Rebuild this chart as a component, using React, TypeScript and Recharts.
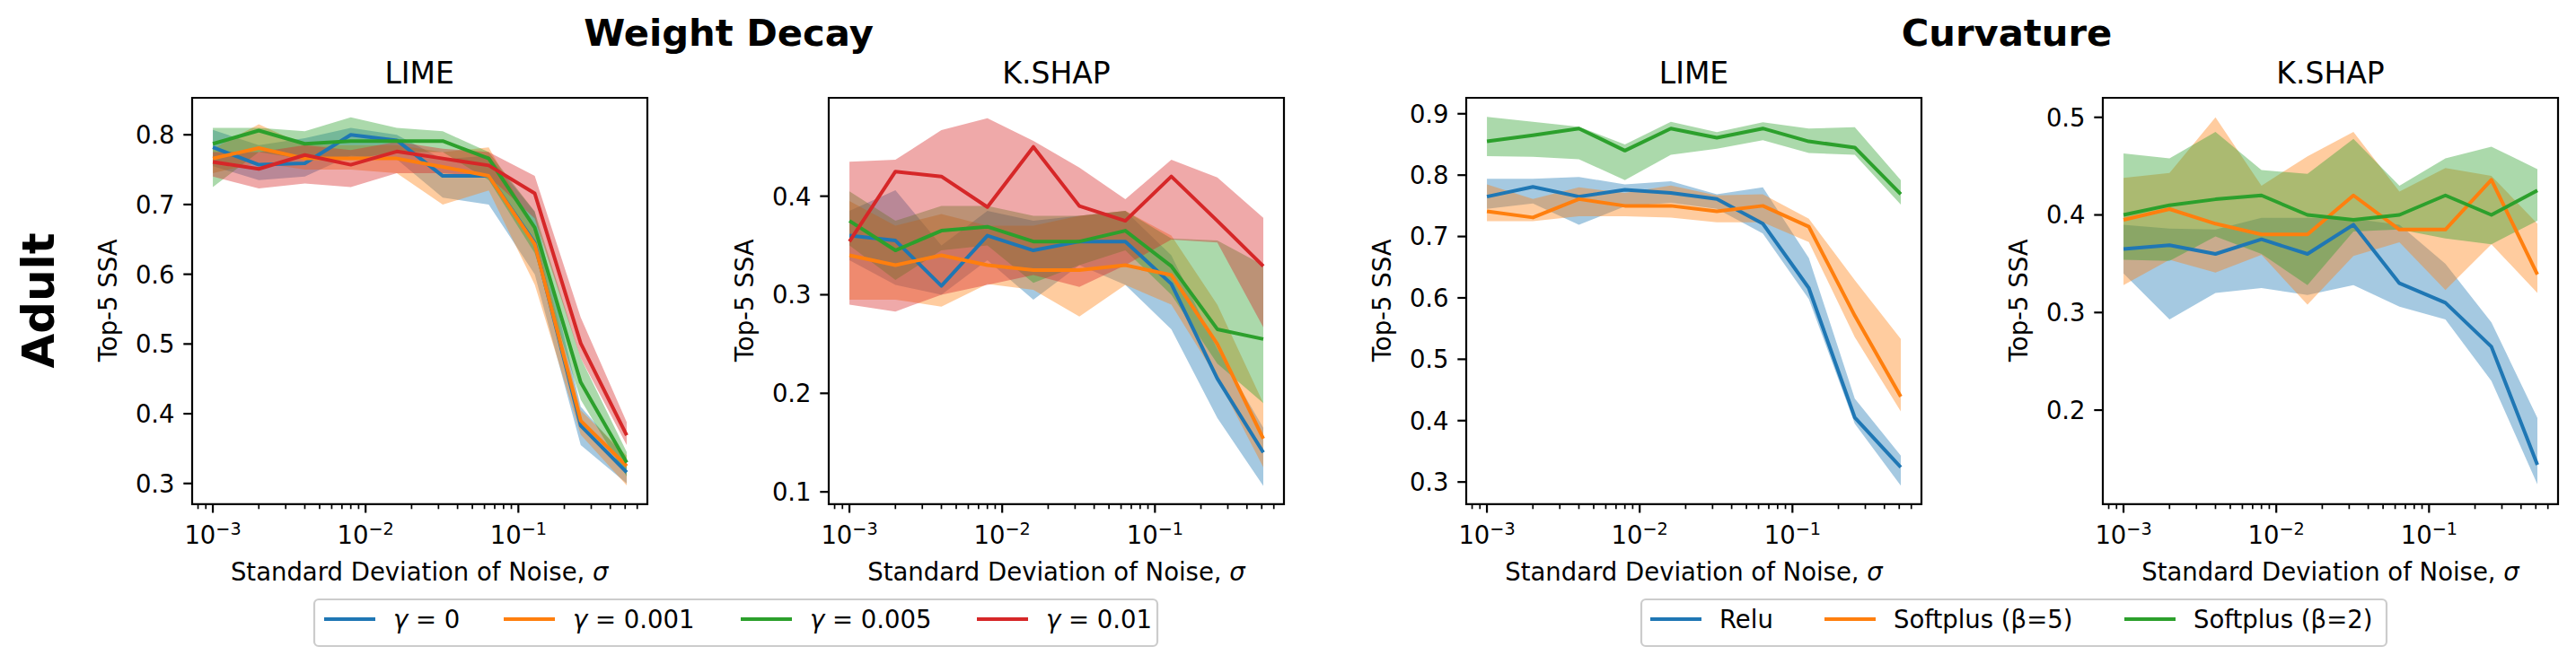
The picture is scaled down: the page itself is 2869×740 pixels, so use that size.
import React from 'react';
import { ComposedChart, Area, Line, XAxis, YAxis, ReferenceArea } from 'recharts';

// noise levels (x values, shared by every panel)
const SIGMA = [0.001, 0.002, 0.004, 0.008, 0.016, 0.032, 0.064, 0.128, 0.256, 0.512];

// Weight Decay / LIME
const WD_LIME_G0 = [0.782, 0.757, 0.759, 0.8, 0.792, 0.741, 0.741, 0.645, 0.383, 0.316];
const WD_LIME_G0_LO = [0.755, 0.735, 0.74, 0.77, 0.765, 0.71, 0.7, 0.6, 0.355, 0.3];
const WD_LIME_G0_HI = [0.807, 0.785, 0.795, 0.81, 0.8, 0.765, 0.77, 0.69, 0.41, 0.335];
const WD_LIME_G1 = [0.766, 0.781, 0.766, 0.766, 0.766, 0.754, 0.741, 0.643, 0.39, 0.325];
const WD_LIME_G1_LO = [0.745, 0.76, 0.75, 0.75, 0.745, 0.7, 0.72, 0.585, 0.37, 0.297];
const WD_LIME_G1_HI = [0.78, 0.815, 0.785, 0.785, 0.785, 0.775, 0.782, 0.665, 0.405, 0.34];
const WD_LIME_G2 = [0.787, 0.806, 0.787, 0.791, 0.791, 0.791, 0.766, 0.667, 0.445, 0.33];
const WD_LIME_G2_LO = [0.725, 0.775, 0.765, 0.765, 0.775, 0.775, 0.735, 0.63, 0.42, 0.31];
const WD_LIME_G2_HI = [0.81, 0.81, 0.805, 0.825, 0.81, 0.805, 0.775, 0.69, 0.48, 0.345];
const WD_LIME_G3 = [0.761, 0.751, 0.771, 0.757, 0.776, 0.766, 0.756, 0.716, 0.501, 0.369];
const WD_LIME_G3_LO = [0.74, 0.723, 0.73, 0.725, 0.745, 0.745, 0.74, 0.68, 0.48, 0.355];
const WD_LIME_G3_HI = [0.775, 0.775, 0.785, 0.778, 0.79, 0.78, 0.775, 0.741, 0.538, 0.388];

// Weight Decay / K.SHAP
const WD_SHAP_G0 = [0.36, 0.355, 0.309, 0.36, 0.345, 0.354, 0.354, 0.311, 0.215, 0.14];
const WD_SHAP_G0_LO = [0.335, 0.31, 0.3, 0.335, 0.295, 0.33, 0.31, 0.265, 0.175, 0.106];
const WD_SHAP_G0_HI = [0.385, 0.406, 0.35, 0.385, 0.375, 0.38, 0.385, 0.34, 0.245, 0.165];
const WD_SHAP_G1 = [0.34, 0.33, 0.34, 0.33, 0.325, 0.325, 0.33, 0.32, 0.25, 0.154];
const WD_SHAP_G1_LO = [0.295, 0.295, 0.288, 0.311, 0.305, 0.278, 0.31, 0.29, 0.215, 0.125];
const WD_SHAP_G1_HI = [0.395, 0.37, 0.382, 0.37, 0.37, 0.38, 0.385, 0.36, 0.29, 0.19];
const WD_SHAP_G2 = [0.375, 0.345, 0.365, 0.369, 0.354, 0.354, 0.365, 0.329, 0.265, 0.255];
const WD_SHAP_G2_LO = [0.35, 0.315, 0.345, 0.35, 0.312, 0.33, 0.345, 0.3, 0.23, 0.19];
const WD_SHAP_G2_HI = [0.405, 0.375, 0.39, 0.39, 0.38, 0.38, 0.385, 0.357, 0.355, 0.33];
const WD_SHAP_G3 = [0.354, 0.425, 0.42, 0.389, 0.45, 0.39, 0.375, 0.42, 0.375, 0.329];
const WD_SHAP_G3_LO = [0.29, 0.283, 0.3, 0.31, 0.32, 0.308, 0.33, 0.356, 0.353, 0.267];
const WD_SHAP_G3_HI = [0.435, 0.437, 0.467, 0.479, 0.456, 0.429, 0.397, 0.437, 0.419, 0.378];

// Curvature / LIME
const CV_LIME_RELU = [0.765, 0.781, 0.765, 0.776, 0.771, 0.761, 0.721, 0.616, 0.405, 0.324];
const CV_LIME_RELU_LO = [0.745, 0.754, 0.719, 0.749, 0.755, 0.745, 0.705, 0.598, 0.395, 0.294];
const CV_LIME_RELU_HI = [0.794, 0.794, 0.797, 0.785, 0.79, 0.769, 0.78, 0.665, 0.436, 0.343];
const CV_LIME_SP5 = [0.741, 0.731, 0.761, 0.75, 0.75, 0.741, 0.75, 0.716, 0.571, 0.439];
const CV_LIME_SP5_LO = [0.725, 0.725, 0.733, 0.733, 0.731, 0.723, 0.723, 0.691, 0.536, 0.415];
const CV_LIME_SP5_HI = [0.785, 0.761, 0.78, 0.771, 0.783, 0.767, 0.769, 0.729, 0.629, 0.533];
const CV_LIME_SP2 = [0.855, 0.865, 0.876, 0.84, 0.876, 0.861, 0.876, 0.855, 0.845, 0.769];
const CV_LIME_SP2_LO = [0.831, 0.83, 0.826, 0.792, 0.833, 0.843, 0.857, 0.836, 0.833, 0.752];
const CV_LIME_SP2_HI = [0.895, 0.887, 0.879, 0.85, 0.887, 0.87, 0.886, 0.876, 0.878, 0.792];

// Curvature / K.SHAP
const CV_SHAP_RELU = [0.365, 0.369, 0.36, 0.375, 0.36, 0.39, 0.33, 0.31, 0.265, 0.144];
const CV_SHAP_RELU_LO = [0.34, 0.293, 0.32, 0.325, 0.318, 0.328, 0.306, 0.293, 0.23, 0.124];
const CV_SHAP_RELU_HI = [0.39, 0.386, 0.385, 0.397, 0.397, 0.396, 0.39, 0.35, 0.29, 0.192];
const CV_SHAP_SP5 = [0.395, 0.406, 0.391, 0.38, 0.38, 0.42, 0.385, 0.385, 0.436, 0.339];
const CV_SHAP_SP5_LO = [0.328, 0.354, 0.341, 0.359, 0.308, 0.358, 0.372, 0.323, 0.37, 0.32];
const CV_SHAP_SP5_HI = [0.438, 0.443, 0.5, 0.43, 0.46, 0.485, 0.424, 0.448, 0.44, 0.391];
const CV_SHAP_SP2 = [0.4, 0.41, 0.416, 0.42, 0.4, 0.395, 0.4, 0.42, 0.4, 0.425];
const CV_SHAP_SP2_LO = [0.354, 0.353, 0.378, 0.36, 0.328, 0.383, 0.385, 0.376, 0.37, 0.394];
const CV_SHAP_SP2_HI = [0.463, 0.458, 0.485, 0.446, 0.442, 0.478, 0.43, 0.458, 0.47, 0.447];

const GAMMA_LABELS = ['0', '0.001', '0.005', '0.01'];
const ACT_LABELS = ['Relu', 'Softplus (β=5)', 'Softplus (β=2)'];
const Y_TICKS_WD_LIME = [0.3, 0.4, 0.5, 0.6, 0.7, 0.8];
const Y_TICKS_WD_SHAP = [0.1, 0.2, 0.3, 0.4];
const Y_TICKS_CV_LIME = [0.3, 0.4, 0.5, 0.6, 0.7, 0.8, 0.9];
const Y_TICKS_CV_SHAP = [0.2, 0.3, 0.4, 0.5];

const COLORS = ['#1f77b4', '#ff7f0e', '#2ca02c', '#d62728'];
const FONT = '"DejaVu Sans", sans-serif';

// layout, px
const PLOT_TOP = 108.5;
const PLOT_H = 452.8;
const PLOT_W = 507;
const Y_AXIS_W = 110;
const X_AXIS_H = 70;
const PAD = 10;
const PANEL_LEFT = [213.7, 923, 1633, 2342];
const X_DOMAIN: [number, number] = [7.32e-4, 0.699];

// major + minor log ticks inside the x domain
const X_TICKS: number[] = [];
for (let e = -4; e <= 0; e++) {
  for (let m = 1; m <= 9; m++) {
    const v = m * Math.pow(10, e);
    if (v >= X_DOMAIN[0] && v <= X_DOMAIN[1]) X_TICKS.push(v);
  }
}

interface Series { mean: number[]; lo: number[]; hi: number[]; }

function buildRows(series: Series[]) {
  return SIGMA.map((s, i) => {
    const row: any = { sigma: s };
    series.forEach((d, k) => {
      row['m' + k] = d.mean[i];
      row['b' + k] = [d.lo[i], d.hi[i]];
    });
    return row;
  });
}

function XTick({ x, y, payload }: any) {
  const e = Math.log10(payload.value);
  const major = Math.abs(e - Math.round(e)) < 1e-6;
  return (
    <g>
      <line x1={x} x2={x} y1={y} y2={y + (major ? 9.7 : 5.5)} stroke="#000" strokeWidth={major ? 2.2 : 1.7} />
      {major && (
        <text x={x} y={y + 44.7} textAnchor="middle" fontSize={27.5} fontFamily={FONT} fill="#000">
          10<tspan fontSize={19.25} dy={-10.3}>{'\u2212' + Math.abs(Math.round(e))}</tspan>
        </text>
      )}
    </g>
  );
}

function YTick({ x, y, payload }: any) {
  return (
    <g>
      <line x1={x - 9.7} x2={x} y1={y} y2={y} stroke="#000" strokeWidth={2.2} />
      <text x={x - 19.4} y={y} dy="0.36em" textAnchor="end" fontSize={27.5} fontFamily={FONT} fill="#000">
        {payload.value.toFixed(1)}
      </text>
    </g>
  );
}

interface PanelProps { left: number; series: Series[]; yDomain: [number, number]; yTicks: number[]; }

function Panel({ left, series, yDomain, yTicks }: PanelProps) {
  const rows = buildRows(series);
  return (
    <div style={{ position: 'absolute', left: left - Y_AXIS_W, top: PLOT_TOP - PAD }}>
      <ComposedChart
        width={Y_AXIS_W + PLOT_W + PAD}
        height={PAD + PLOT_H + X_AXIS_H}
        data={rows}
        margin={{ top: PAD, right: PAD, bottom: 0, left: 0 }}
      >
        <XAxis dataKey="sigma" type="number" scale="log" domain={X_DOMAIN} allowDataOverflow
          ticks={X_TICKS} interval={0} tick={<XTick />} tickLine={false} axisLine={false}
          tickSize={0} tickMargin={0} height={X_AXIS_H} />
        <YAxis type="number" domain={yDomain} allowDataOverflow ticks={yTicks} interval={0}
          tick={<YTick />} tickLine={false} axisLine={false} tickSize={0} tickMargin={0} width={Y_AXIS_W} />
        {series.map((_, k) => (
          <Area key={'b' + k} type="linear" dataKey={'b' + k} stroke="none" fill={COLORS[k]}
            fillOpacity={0.4} dot={false} activeDot={false} isAnimationActive={false} />
        ))}
        {series.map((_, k) => (
          <Line key={'m' + k} type="linear" dataKey={'m' + k} stroke={COLORS[k]} strokeWidth={4}
            strokeLinejoin="round" dot={false} activeDot={false} isAnimationActive={false} />
        ))}
        <ReferenceArea x1={X_DOMAIN[0]} x2={X_DOMAIN[1]} y1={yDomain[0]} y2={yDomain[1]}
          fill="none" fillOpacity={0} stroke="#000" strokeWidth={2.2} strokeOpacity={1} ifOverflow="visible" />
      </ComposedChart>
    </div>
  );
}

function LegendBox({ x, width, labels, handles, italicGamma }: { x: number; width: number; labels: string[]; handles: number[]; italicGamma?: boolean }) {
  return (
    <g>
      <rect x={x} y={668} width={width} height={52} rx={5} fill="#fff" fillOpacity={0.8} stroke="#cccccc" strokeWidth={2.2} />
      {labels.map((lab, i) => (
        <g key={lab}>
          <line x1={handles[i]} x2={handles[i] + 57} y1={690} y2={690} stroke={COLORS[i]} strokeWidth={4.2} />
          <text x={handles[i] + 77} y={700} fontSize={27.5} fontFamily={FONT} fill="#000">
            {italicGamma ? (<><tspan fontStyle="italic">γ</tspan>{' = ' + lab}</>) : lab}
          </text>
        </g>
      ))}
    </g>
  );
}

export default function App() {
  const wdLime: Series[] = [
    { mean: WD_LIME_G0, lo: WD_LIME_G0_LO, hi: WD_LIME_G0_HI },
    { mean: WD_LIME_G1, lo: WD_LIME_G1_LO, hi: WD_LIME_G1_HI },
    { mean: WD_LIME_G2, lo: WD_LIME_G2_LO, hi: WD_LIME_G2_HI },
    { mean: WD_LIME_G3, lo: WD_LIME_G3_LO, hi: WD_LIME_G3_HI },
  ];
  const wdShap: Series[] = [
    { mean: WD_SHAP_G0, lo: WD_SHAP_G0_LO, hi: WD_SHAP_G0_HI },
    { mean: WD_SHAP_G1, lo: WD_SHAP_G1_LO, hi: WD_SHAP_G1_HI },
    { mean: WD_SHAP_G2, lo: WD_SHAP_G2_LO, hi: WD_SHAP_G2_HI },
    { mean: WD_SHAP_G3, lo: WD_SHAP_G3_LO, hi: WD_SHAP_G3_HI },
  ];
  const cvLime: Series[] = [
    { mean: CV_LIME_RELU, lo: CV_LIME_RELU_LO, hi: CV_LIME_RELU_HI },
    { mean: CV_LIME_SP5, lo: CV_LIME_SP5_LO, hi: CV_LIME_SP5_HI },
    { mean: CV_LIME_SP2, lo: CV_LIME_SP2_LO, hi: CV_LIME_SP2_HI },
  ];
  const cvShap: Series[] = [
    { mean: CV_SHAP_RELU, lo: CV_SHAP_RELU_LO, hi: CV_SHAP_RELU_HI },
    { mean: CV_SHAP_SP5, lo: CV_SHAP_SP5_LO, hi: CV_SHAP_SP5_HI },
    { mean: CV_SHAP_SP2, lo: CV_SHAP_SP2_LO, hi: CV_SHAP_SP2_HI },
  ];
  const titles = ['LIME', 'K.SHAP', 'LIME', 'K.SHAP'];
  const yMid = PLOT_TOP + PLOT_H / 2;

  return (
    <div style={{ position: 'absolute', left: 0, top: 0, width: 2869, height: 740, background: '#fff', overflow: 'hidden' }}>
      <Panel left={PANEL_LEFT[0]} series={wdLime} yDomain={[0.2704, 0.853]} yTicks={Y_TICKS_WD_LIME} />
      <Panel left={PANEL_LEFT[1]} series={wdShap} yDomain={[0.0876, 0.4998]} yTicks={Y_TICKS_WD_SHAP} />
      <Panel left={PANEL_LEFT[2]} series={cvLime} yDomain={[0.264, 0.926]} yTicks={Y_TICKS_CV_LIME} />
      <Panel left={PANEL_LEFT[3]} series={cvShap} yDomain={[0.1037, 0.52]} yTicks={Y_TICKS_CV_SHAP} />

      <svg width={2869} height={740} style={{ position: 'absolute', left: 0, top: 0, pointerEvents: 'none' }}>
        <text x={811.5} y={51} textAnchor="middle" fontSize={41.7} fontWeight="bold" fontFamily={FONT}>Weight Decay</text>
        <text x={2235} y={51} textAnchor="middle" fontSize={41.7} fontWeight="bold" fontFamily={FONT}>Curvature</text>
        <text transform={`translate(60,${yMid}) rotate(-90)`} textAnchor="middle" fontSize={50} fontWeight="bold" fontFamily={FONT}>Adult</text>
        {PANEL_LEFT.map((l, i) => (
          <g key={i}>
            <text x={l + PLOT_W / 2} y={93} textAnchor="middle" fontSize={33} fontFamily={FONT}>{titles[i]}</text>
            <text transform={`translate(${l - 84},${yMid}) rotate(-90)`} textAnchor="middle" fontSize={27.5} fontFamily={FONT}>Top-5 SSA</text>
            <text x={l + PLOT_W / 2} y={646.5} textAnchor="middle" fontSize={27.5} fontFamily={FONT}>
              Standard Deviation of Noise, <tspan fontStyle="italic">σ</tspan>
            </text>
          </g>
        ))}
        <LegendBox x={350} width={939} labels={GAMMA_LABELS} handles={[361, 561, 825, 1088]} italicGamma />
        <LegendBox x={1828} width={830} labels={ACT_LABELS} handles={[1838, 2032, 2366]} />
      </svg>
    </div>
  );
}
